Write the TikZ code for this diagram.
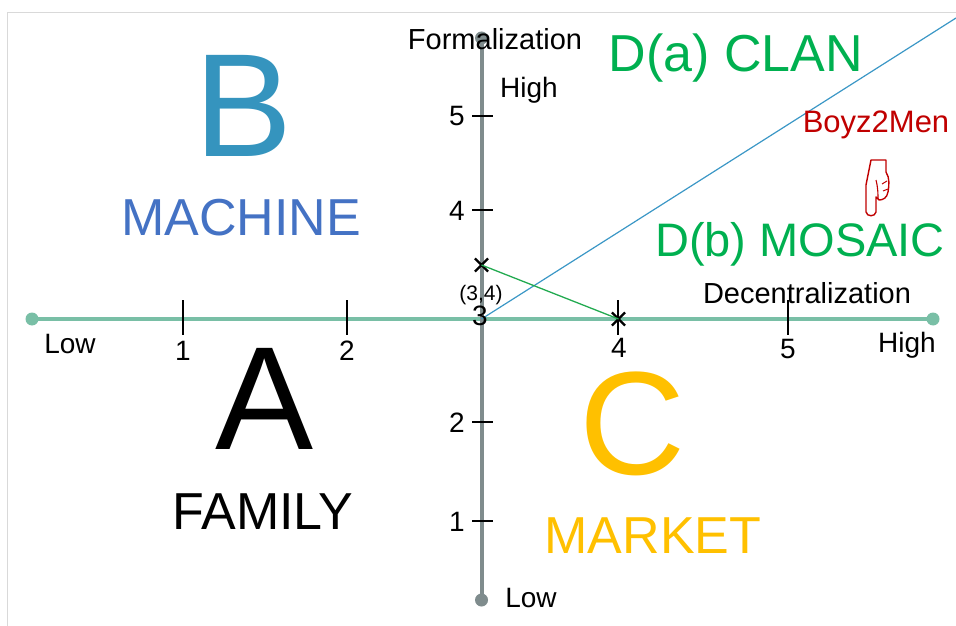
\documentclass[tikz,border=0pt]{standalone}
\usepackage{fontspec}
\setmainfont{Liberation Sans}
\usetikzlibrary{shapes.misc}
\definecolor{bblue}{HTML}{3594BE}
\definecolor{machblue}{HTML}{4472C4}
\definecolor{gold}{HTML}{FFC000}
\definecolor{dgreen}{HTML}{00B050}
\definecolor{dred}{HTML}{C00000}
\definecolor{teal}{HTML}{79BFA6}
\definecolor{axgray}{HTML}{7F8C8D}
\definecolor{lineblue}{HTML}{3B97C6}
\definecolor{linegreen}{HTML}{22AA50}
\definecolor{bordergray}{HTML}{D9D9D9}
\tikzset{
  lbl/.style={inner sep=0pt, anchor=base},
  haxis/.style={draw=teal, line width=4bp},
  vaxis/.style={draw=axgray, line width=4bp},
  tickmark/.style={draw=black, line width=2bp},
  crossmark/.style={cross out, draw=black, line width=2.2bp, minimum size=11bp, inner sep=0pt},
  blueline/.style={draw=lineblue, line width=1.2bp},
  greenline/.style={draw=linegreen, line width=1.3bp},
}
\newcommand\plainlabel[6]{%
  \node[lbl, font=\fontsize{#4}{#4}\selectfont, text=#5] (#1) at (#2,#3) {#6};
}
\begin{document}
\begin{tikzpicture}[x=1bp,y=-1bp]
\useasboundingbox (0,0) rectangle (956,626);
% frame
\draw[bordergray, line width=1.3bp] (7.5,626) -- (7.5,12.5) -- (956,12.5);

% coordinates
\coordinate (hL) at (32,319);
\coordinate (hR) at (933,319);
\coordinate (vT) at (481.5,38);
\coordinate (vB) at (481.5,600);
\coordinate (O) at (481.5,319);
\coordinate (blueEnd) at (956,18);

% horizontal axis
\draw[haxis] (hL) -- (hR);
\fill[teal] (hL) circle (6.5);
\fill[teal] (hR) circle (6.5);
% vertical axis
\draw[vaxis] (vT) -- (vB);
\fill[axgray] (vT) circle (6.5);
\fill[axgray] (vB) circle (6.5);

% horizontal ticks
\foreach \tx in {183,347,618,788} \draw[tickmark] (\tx,300) -- (\tx,335);
% vertical ticks
\foreach \ty in {116,210,422,521} \draw[tickmark] (472,\ty) -- (493,\ty);

% lines
\draw[blueline] (O) -- (blueEnd);
\node[crossmark] (p34) at (481.5,265) {};
\node[crossmark] (p4) at (618.5,319) {};
\draw[greenline] (p34.center) -- (p4.center);

% axis labels
\plainlabel{form}{495}{50}{29bp}{black}{Formalization}
\plainlabel{vhigh}{529}{98}{28bp}{black}{High}
\plainlabel{vlow}{531}{607}{28bp}{black}{Low}
\plainlabel{hlow}{70}{353}{28bp}{black}{Low}
\plainlabel{hhigh}{907}{352}{28bp}{black}{High}
\plainlabel{decent}{807}{303}{29bp}{black}{Decentralization}

% tick numbers
\plainlabel{n1}{183}{360}{28bp}{black}{1}
\plainlabel{n2}{347}{360}{28bp}{black}{2}
\plainlabel{n3}{480}{325}{28bp}{black}{3}
\plainlabel{n4}{619}{357}{28bp}{black}{4}
\plainlabel{n5}{788}{358}{28bp}{black}{5}
\plainlabel{v5}{457}{126}{28bp}{black}{5}
\plainlabel{v4}{457}{221}{28bp}{black}{4}
\plainlabel{v2}{457}{432}{28bp}{black}{2}
\plainlabel{v1}{457}{531}{28bp}{black}{1}
\plainlabel{pt}{481}{300}{21bp}{black}{(3,4)}

% quadrant labels
\plainlabel{bigB}{244}{157}{147bp}{bblue}{B}
\plainlabel{machine}{241}{236}{52bp}{machblue}{MACHINE}
\plainlabel{bigA}{265}{449}{147bp}{black}{A}
\plainlabel{family}{263}{529}{52bp}{black}{FAMILY}
\node[lbl, font=\fontsize{147bp}{147bp}\selectfont, text=gold, text height=100bp] (bigC) at (633,474) {C};
\plainlabel{market}{653}{553}{52bp}{gold}{MARKET}
\plainlabel{clan}{736}{72}{52bp}{dgreen}{D(a) CLAN}
\plainlabel{mosaic}{800}{257}{47bp}{dgreen}{D(b) MOSAIC}
\plainlabel{boyz}{876}{133}{31bp}{dred}{Boyz2Men}

% pointing hand
\draw[dred, line width=1.4bp, line join=round, fill=white]
  (871,160) -- (886,160) -- (886,172) .. controls (890,178) and (889,186) .. (888,192)
  .. controls (887,198) and (883,200) .. (879,200) -- (876,197) -- (876,212)
  .. controls (875,217) and (867,217) .. (866,212) -- (866,185) -- cycle;
\draw[dred, line width=1.1bp] (876,180) .. controls (878,188) and (878,194) .. (878,199);
\draw[dred, line width=1bp] (887,181) -- (882,184);
\draw[dred, line width=1bp] (888,189) -- (883,191);
\end{tikzpicture}
\end{document}
